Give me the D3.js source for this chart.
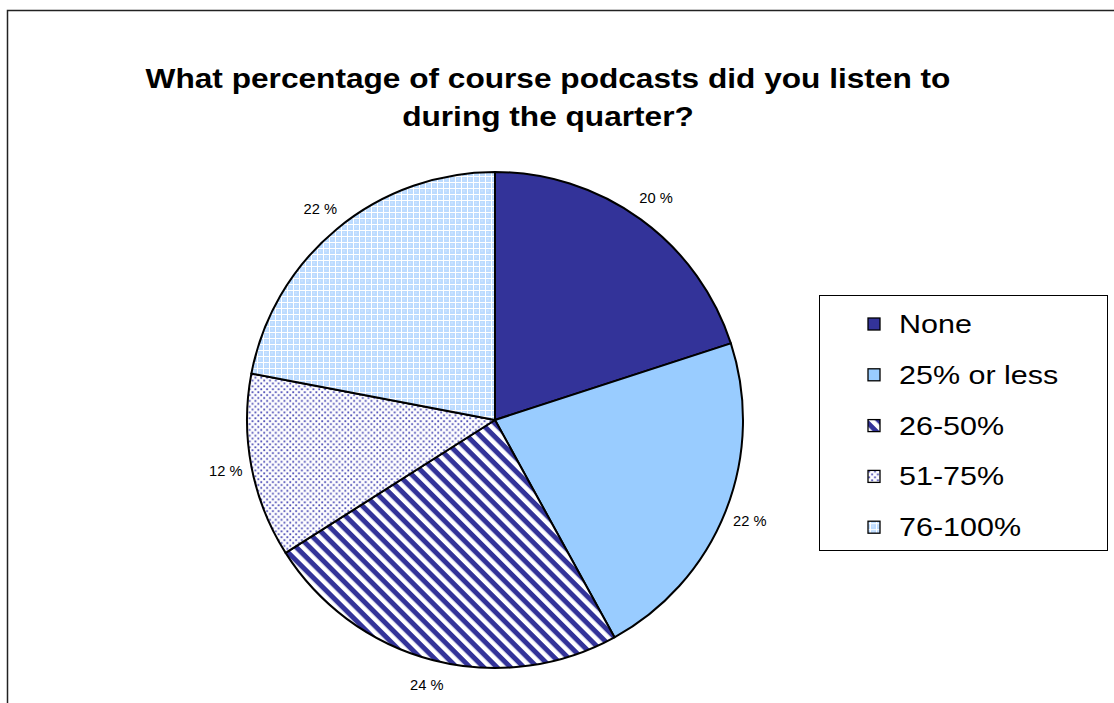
<!DOCTYPE html>
<html><head><meta charset="utf-8">
<script src="https://cdn.jsdelivr.net/npm/d3@7"></script>
<style>body{margin:0;background:#fff}svg{display:block;font-family:"Liberation Sans",Arial,sans-serif}</style>
</head><body>
<svg id="c" width="1114" height="703"></svg>
<script>
const categories = ["None","25% or less","26-50%","51-75%","76-100%"];
const values = [20,22,24,12,22];
const labels = ["20 %","22 %","24 %","12 %","22 %"];
const titleLines = ["What percentage of course podcasts did you listen to","during the quarter?"];

const svg = d3.select("#c");
const defs = svg.append("defs");
// stripes
const ps = defs.append("pattern").attr("id","p2").attr("patternUnits","userSpaceOnUse")
  .attr("width",9.5).attr("height",9.5).attr("patternTransform","rotate(45)");
ps.append("rect").attr("width",9.5).attr("height",9.5).attr("fill","#fff");
ps.append("rect").attr("width",9.5).attr("height",5).attr("fill","#333399");
// dots
const pd = defs.append("pattern").attr("id","p3").attr("patternUnits","userSpaceOnUse").attr("width",5.8).attr("height",5.8);
pd.append("rect").attr("width",5.8).attr("height",5.8).attr("fill","#fff");
pd.append("rect").attr("x",0.3).attr("y",0.3).attr("width",1.8).attr("height",1.8).attr("fill","#4a4ab4");
pd.append("rect").attr("x",3.2).attr("y",3.2).attr("width",1.8).attr("height",1.8).attr("fill","#4a4ab4");
// light blue lattice
const pl = defs.append("pattern").attr("id","p4").attr("patternUnits","userSpaceOnUse").attr("width",6).attr("height",6);
pl.append("rect").attr("width",6).attr("height",6).attr("fill","#bcdbff");
pl.append("rect").attr("x",0).attr("y",2).attr("width",6).attr("height",1).attr("fill","#fff");
pl.append("rect").attr("x",2).attr("y",0).attr("width",1).attr("height",6).attr("fill","#fff");
pl.append("rect").attr("x",4.5).attr("y",4.5).attr("width",1).attr("height",1).attr("fill","#eef6ff");

const fills = ["#333399","#99ccff","url(#p2)","url(#p3)","url(#p4)"];

// outer border
svg.append("rect").attr("x",7.5).attr("y",10.5).attr("width",1120).attr("height",720)
  .attr("fill","none").attr("stroke","#222").attr("stroke-width",1.5);

// title
svg.append("g").selectAll("text").data(titleLines).join("text")
  .attr("transform",(d,i)=>`translate(548,${88+i*38}) scale(1.13,1)`).attr("text-anchor","middle")
  .attr("font-size",28).attr("font-weight","bold").text(d=>d);

const cx=495, cy=420, r=248;
const pie = d3.pie().sort(null).value(d=>d);
const arcs = pie(values);
const arc = d3.arc().innerRadius(0).outerRadius(r);
const g = svg.append("g").attr("transform",`translate(${cx},${cy})`);
g.selectAll("path").data(arcs).join("path")
  .attr("d",arc).attr("fill",(d,i)=>fills[i])
  .attr("stroke","#000").attr("stroke-width",2).attr("stroke-linejoin","round");

const la = d3.arc().innerRadius(r+26).outerRadius(r+26);
g.selectAll("text").data(arcs).join("text")
  .attr("transform",d=>{const c=la.centroid(d);return `translate(${c[0]},${c[1]}) scale(1.05,1)`;})
  .attr("text-anchor","middle").attr("dy","0.35em").attr("font-size",14)
  .text((d,i)=>labels[i]);

// legend
svg.append("rect").attr("x",819.5).attr("y",295.5).attr("width",288).attr("height",255)
  .attr("fill","#fff").attr("stroke","#000").attr("stroke-width",1);
const lg = svg.append("g").selectAll("g").data(categories).join("g")
  .attr("transform",(d,i)=>`translate(868,${318+i*50.8})`);
lg.append("rect").attr("width",12).attr("height",12).attr("fill",(d,i)=>fills[i])
  .attr("stroke","#000").attr("stroke-width",1.3);
lg.append("text").attr("transform","translate(31,6) scale(1.22,1)").attr("dy","0.36em").attr("font-size",25).text(d=>d);
</script>
</body></html>
